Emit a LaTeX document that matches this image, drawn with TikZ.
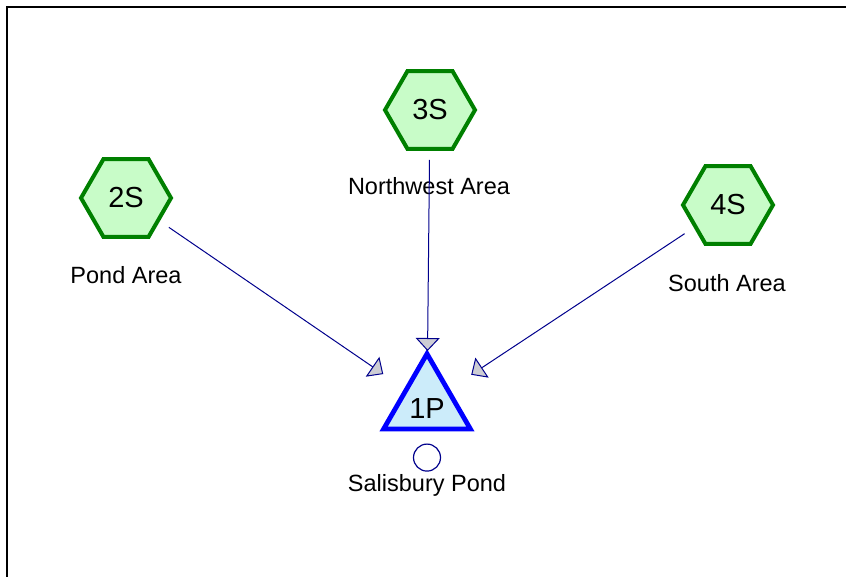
\documentclass[tikz,border=0pt]{standalone}
\usepackage{fontspec}
\setmainfont{Liberation Sans}
\usetikzlibrary{positioning,arrows.meta,shapes.geometric,calc}
\definecolor{subrule}{RGB}{0,128,0}
\definecolor{subfill}{RGB}{200,252,200}
\definecolor{pondrule}{RGB}{0,0,255}
\definecolor{pondfill}{RGB}{204,236,250}
\definecolor{linknavy}{RGB}{0,0,140}
\definecolor{tipgray}{RGB}{205,205,212}
\tikzset{
  subcat/.style={regular polygon,regular polygon sides=6,draw=subrule,line width=4pt,fill=subfill,minimum size=90pt,inner sep=0pt,font=\fontsize{29}{32}\selectfont},
  pond/.style={regular polygon,regular polygon sides=3,draw=pondrule,line width=4.8pt,fill=pondfill,minimum size=100pt,inner sep=0pt,text height=28.5pt,text depth=0pt,font=\fontsize{29}{32}\selectfont},
  outlet/.style={circle,draw=linknavy,line width=1.2pt,minimum size=27pt,inner sep=0pt},
  areatext/.style={anchor=base,inner sep=0pt,font=\fontsize{23.5}{27}\selectfont},
  link/.style={draw=linknavy,line width=1pt,-{Triangle[length=13pt,width=24pt,fill=tipgray]}}
}
\begin{document}
\begin{tikzpicture}[x=1pt,y=-1pt]
  \useasboundingbox (0,0) rectangle (846,577);
  \draw[line width=2.5pt] (7,600) -- (7,7) -- (870,7);
  % subcatchments and pond
  \node[subcat] (s2) at (126,198) {2S};
  \node[subcat] (s3) at (430,110) {3S};
  \node[subcat] (s4) at (728,205) {4S};
  \node[pond] (p1) at (427,404) {1P};
  \node[outlet,below=12pt of p1] (o1) {};
  \node[areatext] (t2) at (126,284) {Pond Area};
  \node[areatext] (t3) at (429,195) {Northwest Area};
  \node[areatext] (t4) at (727,292) {South Area};
  \node[areatext] (t1) at (427,491) {Salisbury Pond};
  \draw[link] ($(s2.center)!52pt!(p1.center)$) -- ($(p1.center)!53pt!(s2.center)$);
  \draw[link] ($(s3.center)!50pt!(p1.center)$) -- ($(p1.center)!53pt!(s3.center)$);
  \draw[link] ($(s4.center)!52pt!(p1.center)$) -- ($(p1.center)!53pt!(s4.center)$);
\end{tikzpicture}
\end{document}
